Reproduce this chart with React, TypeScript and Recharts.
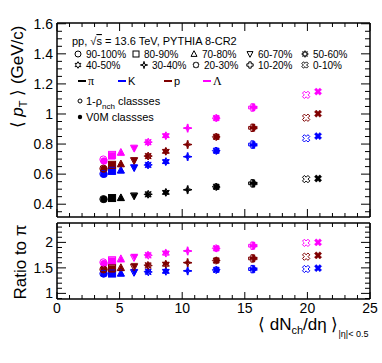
import React from 'react';
import { ScatterChart, Scatter, XAxis, YAxis } from 'recharts';

// multiplicity classes (V0M and 1-rho_nch)
const classes = ['90-100%', '80-90%', '70-80%', '60-70%', '50-60%', '40-50%', '30-40%', '20-30%', '10-20%', '0-10%'];
const speciesLabels = ['π', 'K', 'p', 'Λ'];

// <dNch/deta> per class
const xV0M = [3.75, 4.37, 5.11, 6.18, 7.24, 8.68, 10.4, 12.75, 15.7, 20.85];
const xRho = [3.7, 4.4, 5.1, 6.15, 7.3, 8.7, 10.45, 12.7, 15.6, 19.9];

// <pT> (GeV/c), V0M classes
const piV0M = [0.433, 0.44, 0.442, 0.455, 0.465, 0.478, 0.495, 0.515, 0.538, 0.571];
const kV0M = [0.6, 0.62, 0.625, 0.642, 0.66, 0.682, 0.716, 0.755, 0.795, 0.853];
const pV0M = [0.635, 0.66, 0.667, 0.69, 0.72, 0.751, 0.796, 0.848, 0.909, 1.002];
const lamV0M = [0.687, 0.722, 0.742, 0.771, 0.811, 0.855, 0.906, 0.973, 1.044, 1.149];

// <pT> (GeV/c), 1-rho_nch classes
const piRho = [0.434, 0.441, 0.443, 0.456, 0.466, 0.479, 0.497, 0.516, 0.539, 0.567];
const kRho = [0.602, 0.622, 0.626, 0.644, 0.662, 0.684, 0.716, 0.756, 0.797, 0.838];
const pRho = [0.637, 0.662, 0.668, 0.691, 0.72, 0.752, 0.797, 0.848, 0.908, 0.975];
const lamRho = [0.698, 0.728, 0.745, 0.774, 0.813, 0.856, 0.906, 0.973, 1.043, 1.127];

// ratio to pi
const kRatioV0M = [1.385, 1.39, 1.392, 1.418, 1.43, 1.437, 1.444, 1.463, 1.477, 1.495];
const pRatioV0M = [1.467, 1.48, 1.496, 1.535, 1.555, 1.58, 1.608, 1.647, 1.686, 1.745];
const lamRatioV0M = [1.587, 1.633, 1.666, 1.718, 1.757, 1.797, 1.836, 1.88, 1.935, 2.0];
const kRatioRho = [1.388, 1.39, 1.393, 1.41, 1.42, 1.43, 1.44, 1.46, 1.476, 1.478];
const pRatioRho = [1.47, 1.5, 1.505, 1.515, 1.545, 1.57, 1.6, 1.643, 1.685, 1.72];
const lamRatioRho = [1.61, 1.65, 1.68, 1.7, 1.745, 1.787, 1.83, 1.885, 1.935, 1.99];

const xMajor = [0, 5, 10, 15, 20, 25];
const ptMajor = [0.4, 0.6, 0.8, 1, 1.2, 1.4, 1.6];
const ratioMajor = [1, 1.5, 2];

const COLORS = ['#000000', '#0000ff', '#7f0000', '#ff00ff'];
const FONT = '"Liberation Sans", Arial, Helvetica, sans-serif';

const range = (a: number, b: number, step: number) => {
  const out: number[] = [];
  for (let v = a; v <= b + 1e-9; v += step) out.push(Math.round(v * 1000) / 1000);
  return out;
};
const xTicks = range(0, 25, 1);
const ptTicks = range(0.35, 1.6, 0.05);
const ratioTicks = range(0.9, 2.3, 0.1);

const pts = (xs: number[], ys: number[]) => xs.map((x, i) => ({ x, y: ys[i], cls: i }));

function starPath(cx: number, cy: number, n: number, R: number, r: number) {
  let d = '';
  for (let i = 0; i < 2 * n; i++) {
    const a = -Math.PI / 2 + (i * Math.PI) / n;
    const rad = i % 2 === 0 ? R : r;
    d += (i === 0 ? 'M' : 'L') + (cx + rad * Math.cos(a)).toFixed(2) + ' ' + (cy + rad * Math.sin(a)).toFixed(2);
  }
  return d + 'Z';
}

function crossPath(cx: number, cy: number, L: number, w: number, rot: number) {
  const p = [[w, -L], [w, -w], [L, -w], [L, w], [w, w], [w, L], [-w, L], [-w, w], [-L, w], [-L, -w], [-w, -w], [-w, -L]];
  const c = Math.cos(rot), s = Math.sin(rot);
  return p
    .map(([a, b], i) => (i === 0 ? 'M' : 'L') + (cx + a * c - b * s).toFixed(2) + ' ' + (cy + a * s + b * c).toFixed(2))
    .join('') + 'Z';
}

function Marker({ kind, cx, cy, s, color, open }: { kind: number; cx: number; cy: number; s: number; color: string; open: boolean }) {
  const st = { fill: open ? 'none' : color, stroke: color, strokeWidth: open ? 1 : 0.4 };
  const h = s / 2;
  switch (kind) {
    case 0:
      return <circle cx={cx} cy={cy} r={h} {...st} />;
    case 1:
      return <rect x={cx - h} y={cy - h} width={s} height={s} {...st} />;
    case 2:
      return <path d={`M${cx} ${cy - h * 1.1}L${cx + h} ${cy + h * 0.8}L${cx - h} ${cy + h * 0.8}Z`} {...st} />;
    case 3:
      return <path d={`M${cx} ${cy + h * 1.1}L${cx + h} ${cy - h * 0.8}L${cx - h} ${cy - h * 0.8}Z`} {...st} />;
    case 4:
      return <path d={starPath(cx, cy, 8, h * 1.1, h * 0.55)} {...st} />;
    case 5:
      return <path d={starPath(cx, cy, 6, h * 1.1, h * 0.6)} {...st} />;
    case 6:
      return <path d={starPath(cx, cy, 4, h * 1.2, h * 0.35)} {...st} />;
    case 7:
      return <path d={starPath(cx, cy, 8, h * 1.05, h * 0.8)} {...st} />;
    case 8:
      return <path d={crossPath(cx, cy, h * 1.05, h * 0.4, 0)} {...st} />;
    default:
      return <path d={crossPath(cx, cy, h * 1.1, h * 0.38, Math.PI / 4)} {...st} />;
  }
}

const shapeFor = (color: string, open: boolean) => (props: any) => {
  const cls = props.payload?.cls ?? props.cls ?? 0;
  return <Marker kind={cls} cx={props.cx} cy={props.cy} s={7} color={color} open={open} />;
};

const makeTick = (majors: number[], side: string, majLen: number, minLen: number, showLabel: boolean) => (props: any) => {
  const { x, y, payload } = props;
  const v = payload.value;
  const major = majors.some((m) => Math.abs(m - v) < 1e-6);
  const len = major ? majLen : minLen;
  let x2 = x, y2 = y;
  if (side === 'left') x2 = x + len;
  if (side === 'right') x2 = x - len;
  if (side === 'bottom') y2 = y - len;
  if (side === 'top') y2 = y + len;
  return (
    <g>
      <line x1={x} y1={y} x2={x2} y2={y2} stroke="#000" strokeWidth={1} />
      {showLabel && major && side === 'left' && (
        <text x={x - 4} y={y + 5} textAnchor="end" fontSize={14} fontFamily={FONT} fill="#000">{String(v)}</text>
      )}
      {showLabel && major && side === 'bottom' && (
        <text x={x} y={y + 14} textAnchor="middle" fontSize={14} fontFamily={FONT} fill="#000">{String(v)}</text>
      )}
    </g>
  );
};

const axisLine = { stroke: '#000', strokeWidth: 1.5 };

function Frame({ yDomain, yTicks, yMajor, xLabels, yMajLen, yMinLen, xMajLen, xMinLen }: any) {
  return [
    <XAxis key="xb" xAxisId="b" type="number" dataKey="x" domain={[0, 25]} ticks={xTicks} interval={0} allowDataOverflow
      orientation="bottom" height={2} tickSize={0} tickMargin={0} tickLine={false} axisLine={axisLine}
      tick={makeTick(xMajor, 'bottom', xMajLen, xMinLen, xLabels)} />,
    <XAxis key="xt" xAxisId="t" type="number" dataKey="x" domain={[0, 25]} ticks={xTicks} interval={0} allowDataOverflow
      orientation="top" height={2} tickSize={0} tickMargin={0} tickLine={false} axisLine={axisLine}
      tick={makeTick(xMajor, 'top', xMajLen, xMinLen, false)} />,
    <YAxis key="yl" yAxisId="l" type="number" dataKey="y" domain={yDomain} ticks={yTicks} interval={0} allowDataOverflow
      orientation="left" width={20} tickSize={0} tickMargin={0} tickLine={false} axisLine={axisLine}
      tick={makeTick(yMajor, 'left', yMajLen, yMinLen, true)} />,
    <YAxis key="yr" yAxisId="r" type="number" dataKey="y" domain={yDomain} ticks={yTicks} interval={0} allowDataOverflow
      orientation="right" width={2} tickSize={0} tickMargin={0} tickLine={false} axisLine={axisLine}
      tick={makeTick(yMajor, 'right', yMajLen, yMinLen, false)} />,
  ];
}

const topSeries = [
  { v0m: piV0M, rho: piRho },
  { v0m: kV0M, rho: kRho },
  { v0m: pV0M, rho: pRho },
  { v0m: lamV0M, rho: lamRho },
];
const ratioSeries = [
  { v0m: kRatioV0M, rho: kRatioRho, c: 1 },
  { v0m: pRatioV0M, rho: pRatioRho, c: 2 },
  { v0m: lamRatioV0M, rho: lamRatioRho, c: 3 },
];

function Legend() {
  const row2 = [78, 136, 194, 250, 305];
  const row3 = [78, 144, 196, 250, 305];
  const lines = [78, 118, 164, 203];
  return (
    <svg width={382} height={363} style={{ position: 'absolute', left: 0, top: 0, pointerEvents: 'none' }} fontFamily={FONT}>
      <text x={72} y={45} fontSize={11}>pp, √<tspan textDecoration="overline">s</tspan> = 13.6 TeV, PYTHIA 8-CR2</text>
      {classes.map((c, i) => {
        const row = i < 5 ? 0 : 1;
        const mx = row === 0 ? row2[i] : row3[i - 5];
        const cy = row === 0 ? 54 : 65;
        return (
          <g key={c}>
            <Marker kind={i} cx={mx} cy={cy} s={6} color="#000" open={true} />
            <text x={mx + 8} y={cy + 3.5} fontSize={10}>{c}</text>
          </g>
        );
      })}
      {speciesLabels.map((s, i) => (
        <g key={s}>
          <line x1={lines[i]} x2={lines[i] + 8} y1={81} y2={81} stroke={COLORS[i]} strokeWidth={2} />
          <text x={lines[i] + 10} y={85} fontSize={i === 0 || i === 3 ? 12 : 11} fontFamily={i === 0 || i === 3 ? '"Liberation Serif", serif' : FONT}>{s}</text>
        </g>
      ))}
      <circle cx={80} cy={101} r={2} fill="none" stroke="#000" strokeWidth={1} />
      <text x={86} y={105} fontSize={11}>1-ρ<tspan fontSize={8} dy={4}>nch</tspan><tspan dy={-4}> classses</tspan></text>
      <circle cx={80} cy={117} r={2.2} fill="#000" />
      <text x={86} y={121} fontSize={11}>V0M classses</text>

      <text transform="translate(23,77) rotate(-90)" textAnchor="middle" fontSize={17}>
        ⟨ <tspan fontStyle="italic">p</tspan><tspan fontSize={11} dy={4}>T</tspan><tspan dy={-4}> ⟩ (GeV/c)</tspan>
      </text>
      <text transform="translate(26,262) rotate(-90)" textAnchor="middle" fontSize={17}>Ratio to π</text>
      <text x={258} y={330} fontSize={17}>
        ⟨ dN<tspan fontSize={11} dy={4}>ch</tspan><tspan dy={-4}>/dη ⟩</tspan><tspan fontSize={9} dy={7}>|η|&lt; 0.5</tspan>
      </text>
    </svg>
  );
}

export default function App() {
  return (
    <div style={{ position: 'absolute', left: 0, top: 0, width: 382, height: 363, background: '#fff', fontFamily: FONT }}>
      <div style={{ position: 'absolute', left: 0, top: 0 }}>
        <ScatterChart width={382} height={363} margin={{ top: 21, right: 10, bottom: 144, left: 37 }}>
          {Frame({ yDomain: [0.315, 1.605], yTicks: ptTicks, yMajor: ptMajor, xLabels: false, yMajLen: 9, yMinLen: 5, xMajLen: 8, xMinLen: 4 })}
          {topSeries.map((s, i) => (
            <Scatter key={'v' + i} xAxisId="b" yAxisId="l" data={pts(xV0M, s.v0m)} shape={shapeFor(COLORS[i], false)} isAnimationActive={false} />
          ))}
          {topSeries.map((s, i) => (
            <Scatter key={'r' + i} xAxisId="b" yAxisId="l" data={pts(xRho, s.rho)} shape={shapeFor(COLORS[i], true)} isAnimationActive={false} />
          ))}
        </ScatterChart>
      </div>
      <div style={{ position: 'absolute', left: 0, top: 0 }}>
        <ScatterChart width={382} height={363} margin={{ top: 221, right: 10, bottom: 62, left: 37 }}>
          {Frame({ yDomain: [0.89, 2.38], yTicks: ratioTicks, yMajor: ratioMajor, xLabels: true, yMajLen: 9, yMinLen: 5, xMajLen: 7, xMinLen: 4 })}
          {ratioSeries.map((s) => (
            <Scatter key={'v' + s.c} xAxisId="b" yAxisId="l" data={pts(xV0M, s.v0m)} shape={shapeFor(COLORS[s.c], false)} isAnimationActive={false} />
          ))}
          {ratioSeries.map((s) => (
            <Scatter key={'r' + s.c} xAxisId="b" yAxisId="l" data={pts(xRho, s.rho)} shape={shapeFor(COLORS[s.c], true)} isAnimationActive={false} />
          ))}
        </ScatterChart>
      </div>
      <Legend />
    </div>
  );
}
